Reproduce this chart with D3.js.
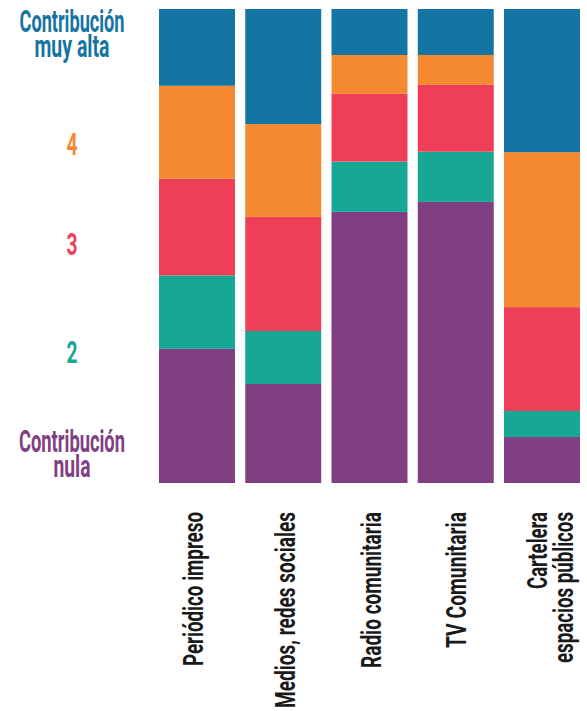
<!DOCTYPE html>
<html>
<head>
<meta charset="utf-8">
<script src="https://cdn.jsdelivr.net/npm/d3@7"></script>
<style>
  html, body { margin: 0; padding: 0; background: #fff; }
  svg { display: block; }
  text { font-family: Roboto, "Liberation Sans", sans-serif; }
</style>
</head>
<body>
<svg id="chart" width="587" height="711"></svg>
<script>
// ---- data ----
const categories = ["Periódico impreso", "Medios, redes sociales", "Radio comunitaria", "TV Comunitaria", "Cartelera espacios públicos"];
const categoryLines = [["Periódico impreso"], ["Medios, redes sociales"], ["Radio comunitaria"], ["TV Comunitaria"], ["Cartelera", "espacios públicos"]];
const seriesKeys = ["nula", "dos", "tres", "cuatro", "muyAlta"];
const nula    = [28.3, 20.9, 57.2, 59.3, 9.7];
const dos     = [15.5, 11.2, 10.6, 10.6, 5.5];
const tres    = [20.4, 24.1, 14.3, 14.1, 21.9];
const cuatro  = [19.6, 19.6, 8.2, 6.3, 32.7];
const muyAlta = [16.2, 24.3, 9.7, 9.7, 30.2];
const levelLabels = [["Contribución", "nula"], ["2"], ["3"], ["4"], ["Contribución", "muy alta"]];
const colors = ["#813f83", "#16a795", "#ee3e58", "#f48932", "#1474a2"];

const seriesValues = { nula, dos, tres, cuatro, muyAlta };
const rows = categories.map((c, i) => {
  const r = { category: c };
  seriesKeys.forEach(k => r[k] = seriesValues[k][i]);
  return r;
});

const svg = d3.select("#chart");
const x = d3.scaleBand().domain(categories).range([159, 580]).paddingInner(0.119).paddingOuter(0);
const y = d3.scaleLinear().domain([0, 1]).range([483, 9]);
const color = d3.scaleOrdinal().domain(seriesKeys).range(colors);

const stack = d3.stack().keys(seriesKeys).offset(d3.stackOffsetExpand);
const stacked = stack(rows);

svg.append("g").selectAll("g").data(stacked).join("g")
  .attr("fill", d => color(d.key))
  .selectAll("rect").data(d => d).join("rect")
  .attr("x", d => x(d.data.category))
  .attr("width", x.bandwidth())
  .attr("y", d => y(d[1]))
  .attr("height", d => y(d[0]) - y(d[1]));

// left level labels (one text element per label, lines as tspans)
const leftSpecs = [
  { lines: levelLabels[4], baselines: [32, 57], widths: [105, 75], key: "muyAlta" },
  { lines: levelLabels[3], baselines: [155], widths: [11], key: "cuatro" },
  { lines: levelLabels[2], baselines: [255], widths: [11], key: "tres" },
  { lines: levelLabels[1], baselines: [363], widths: [11], key: "dos" },
  { lines: levelLabels[0], baselines: [452, 477], widths: [106, 37], key: "nula" }
];
const left = svg.append("g");
leftSpecs.forEach(s => {
  const t = left.append("text")
    .attr("text-anchor", "middle")
    .attr("font-size", 32).attr("font-weight", 700)
    .attr("fill", color(s.key));
  s.lines.forEach((line, i) => {
    t.append("tspan")
      .attr("x", 72).attr("y", s.baselines[i])
      .attr("textLength", s.widths[i])
      .attr("lengthAdjust", "spacingAndGlyphs")
      .text(line);
  });
});

// bottom category labels (rotated)
const labelLengths = [[154], [196], [156], [136], [77, 151]];
const baselineOffsets = [[6], [12], [11.5], [10.5], [5, 31]];
const bottom = svg.append("g");
categories.forEach((c, i) => {
  const cx = x(c) + x.bandwidth() / 2;
  const lines = categoryLines[i];
  const t = bottom.append("text")
    .attr("transform", `translate(${cx},512) rotate(-90)`)
    .attr("text-anchor", "end")
    .attr("font-size", 28).attr("font-weight", 700)
    .attr("fill", "#1a1a1a");
  lines.forEach((line, j) => {
    t.append("tspan")
      .attr("x", 0).attr("y", baselineOffsets[i][j])
      .attr("textLength", labelLengths[i][j])
      .attr("lengthAdjust", "spacingAndGlyphs")
      .text(line);
  });
});
</script>
</body>
</html>
